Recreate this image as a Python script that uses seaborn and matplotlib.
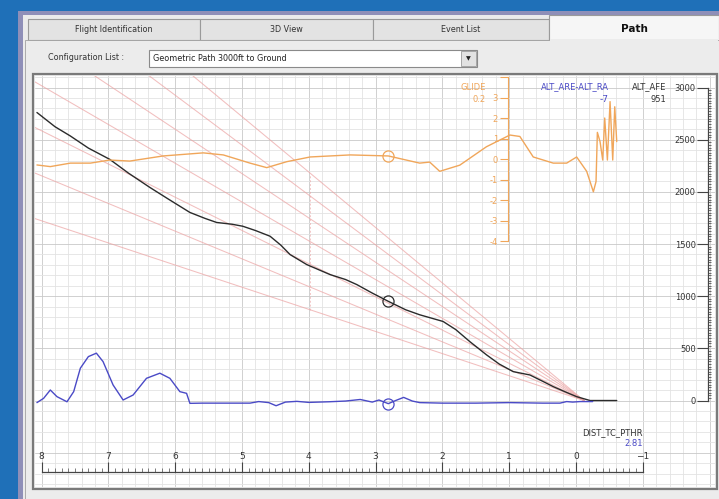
import numpy as np
import matplotlib
matplotlib.use("Agg")
import matplotlib.pyplot as plt
from matplotlib.patches import Rectangle
from matplotlib.ticker import FixedLocator
import seaborn as sns

# ------------------------------------------------------------
# Values (distance to threshold in nm)
# ------------------------------------------------------------
# ALT_AFE : altitude above field elevation (ft)
alt_dist = [8.07, 7.8, 7.57, 7.3, 6.98, 6.7, 6.38, 6.1, 5.78, 5.55, 5.38, 5.15,
            4.99, 4.8, 4.58, 4.42, 4.28, 4.03, 3.68, 3.45, 3.28, 3.05, 2.81,
            2.55, 2.34, 1.99, 1.8, 1.59, 1.34, 1.15, 0.94, 0.69, 0.5, 0.34,
            0.15, -0.01, -0.21, -0.61]
alt_afe = [2761, 2625, 2536, 2420, 2312, 2180, 2043, 1930, 1803, 1745, 1707, 1690,
           1671, 1630, 1575, 1490, 1399, 1303, 1207, 1160, 1111, 1030, 951,
           870, 822, 758, 680, 565, 438, 350, 277, 245, 185, 133,
           80, 37, 0, 0]

# GLIDE : glide slope deviation (dots)
glide_dist = [8.07, 7.87, 7.57, 7.27, 6.98, 6.68, 6.18, 5.58, 5.28, 4.88, 4.63,
              4.33, 3.98, 3.38, 2.81, 2.34, 2.19, 2.04, 1.74, 1.34, 0.99, 0.84,
              0.64, 0.34, 0.14, -0.01, -0.16, -0.26, -0.3, -0.32, -0.36, -0.4,
              -0.43, -0.47, -0.51, -0.55, -0.58, -0.61]
glide_dev = [-0.29, -0.37, -0.2, -0.2, -0.05, -0.1, 0.15, 0.3, 0.2, -0.2, -0.42,
             -0.13, 0.1, 0.2, 0.15, -0.2, -0.15, -0.6, -0.3, 0.6, 1.17, 1.1,
             0.1, -0.2, -0.2, 0.1, -0.6, -1.6, -1.1, 1.3, 0.85, -0.05,
             2.0, -0.05, 2.8, -0.05, 2.55, 0.85]

# ALT_ARE - ALT_RA (ft)
diff_dist = [8.07, 7.97, 7.87, 7.77, 7.62, 7.52, 7.42, 7.3, 7.18, 7.08, 6.93,
             6.78, 6.63, 6.43, 6.23, 6.08, 5.93, 5.83, 5.78, 5.6, 4.88, 4.75,
             4.6, 4.49, 4.35, 4.18, 4.0, 3.7, 3.45, 3.23, 3.05, 2.95, 2.81,
             2.7, 2.58, 2.45, 2.34, 2.0, 1.5, 1.0, 0.5, 0.24, 0.14, 0.05,
             -0.06, -0.25]
diff_ft = [-20, 21, 101, 37, -12, 85, 310, 421, 454, 373, 149,
           5, 53, 213, 262, 213, 85, 69, -27, -25, -25, -10,
           -20, -50, -15, -8, -18, -12, -5, 10, -15, 5, -30,
           0, 30, -5, -20, -25, -25, -20, -25, -25, -10, -15,
           -10, -10]

# reference geometric glide paths (deg) fanning out from the threshold
path_angles = [2.0, 2.5, 3.0, 3.5, 4.0, 4.5, 5.0]
path_origin = -0.12
cursor_dist = 2.81

dist_ticks = list(range(-1, 9))
alt_ticks = [0, 500, 1000, 1500, 2000, 2500, 3000]
glide_ticks = list(range(-4, 5))

tab_labels = ["Flight Identification", "3D View", "Event List", "Path"]
config_label = "Configuration List :"
config_name = "Geometric Path 3000ft to Ground"

ORANGE = "#f0a65a"
PINK = "#eca3a3"
BLACK = "#2b2b2b"
BLUE = "#4a4ac6"
TXT = "#333333"

sns.set_style("white")
plt.rcParams["font.family"] = ["DejaVu Sans"]

W, H = 719, 499
fig = plt.figure(figsize=(W / 100, H / 100), dpi=100)
fig.patch.set_facecolor("#1f70b8")


def fx(px):
    return px / W


def fy(py):
    return 1 - py / H


def box(x0, y0, x1, y1, z=-5, **kw):
    fig.add_artist(Rectangle((fx(x0), fy(y1)), (x1 - x0) / W, (y1 - y0) / H,
                             transform=fig.transFigure, zorder=z, **kw))


# window chrome
box(18, 11, 719, 499, fc="#8f8fb8", ec="none")
box(23, 15, 719, 499, fc="#ebebeb", ec="none")
tab_edges = [28, 200, 373, 549, 719]
for i, name in enumerate(tab_labels):
    x0, x1 = tab_edges[i], tab_edges[i + 1]
    if name == "Path":
        box(x0, 15, x1, 43, fc="#f6f6f6", ec="#9a9a9a", lw=0.8)
        fig.text(fx((x0 + x1) / 2), fy(29), name, ha="center", va="center",
                 size=7.5, weight="bold", color="#111111")
    else:
        box(x0, 19, x1, 40, fc="#e3e3e3", ec="#9a9a9a", lw=0.8)
        fig.text(fx((x0 + x1) / 2), fy(30), name, ha="center", va="center",
                 size=5.8, color=TXT)
box(25, 40, 719, 499, fc="#ececec", ec="#a0a0a0", lw=0.6, z=-4)
box(550, 39, 718, 43, fc="#ececec", ec="none", z=-3)

fig.text(fx(48), fy(58), config_label, ha="left", va="center", size=5.8, color=TXT)
box(149, 50, 477, 67, fc="white", ec="#8a8a8a", lw=0.8, z=-3)
fig.text(fx(153), fy(58.5), config_name, ha="left", va="center", size=5.8, color="#222222")
box(461, 51.5, 476, 65.5, fc="#e2e2e2", ec="#9a9a9a", lw=0.6, z=-2)
fig.text(fx(468.5), fy(58.5), "\u25BC", ha="center", va="center", size=4.5, color="#222222")

# plot area frame
box(33, 74, 717, 489, fc="none", ec="#7a7a7a", lw=1.6, z=5)

ax = fig.add_axes([fx(35), fy(487), (715 - 35) / W, (487 - 76) / H])
ax2 = ax.twinx()

ax.set_facecolor("white")
ax.set_xlim(8.099, -2.081)
ax.set_ylim(-829, 3111)

# background grid
for gx in np.arange(-2.0, 8.01, 0.2):
    major = abs(gx - round(gx)) < 1e-6
    ax.axvline(gx, color="#c9c9c9" if major else "#e3e3e3", lw=0.6, zorder=0)
for gy in range(-800, 3101, 100):
    ax.axhline(gy, color="#c9c9c9" if gy % 500 == 0 else "#e3e3e3", lw=0.6, zorder=0)

# reference glide paths
far = ax.get_xlim()[0]
for ang in path_angles:
    slope = np.tan(np.radians(ang)) * 6076.1
    sns.lineplot(x=[path_origin, far], y=[0, slope * (far - path_origin)], ax=ax,
                 color=PINK, lw=0.75, alpha=0.7, zorder=1)
ax.vlines(3.98, 865, 2165, colors=PINK, linestyles=(0, (2, 2)), lw=0.7, alpha=0.6, zorder=1)

# series
sns.lineplot(x=alt_dist, y=alt_afe, ax=ax, color=BLACK, lw=1.0, sort=False,
             estimator=None, zorder=3)
sns.lineplot(x=diff_dist, y=diff_ft, ax=ax, color=BLUE, lw=1.0, sort=False,
             estimator=None, zorder=3)
sns.lineplot(x=glide_dist, y=glide_dev, ax=ax2, color=ORANGE, lw=1.0, sort=False,
             estimator=None, zorder=3)

# cursor markers
ax.plot(cursor_dist, np.interp(cursor_dist, alt_dist[::-1], alt_afe[::-1]), "o",
        ms=8, mfc="none", mec=BLACK, mew=0.9, zorder=4)
ax.plot(cursor_dist, np.interp(cursor_dist, diff_dist[::-1], diff_ft[::-1]), "o",
        ms=8, mfc="none", mec=BLUE, mew=0.9, zorder=4)
ax2.plot(cursor_dist, np.interp(cursor_dist, glide_dist[::-1], glide_dev[::-1]), "o",
         ms=8, mfc="none", mec=ORANGE, mew=0.9, zorder=4)

# distance ruler (uses the top spine, moved down into the plot)
ax.spines["top"].set_position(("data", -688))
ax.spines["top"].set_bounds(-1, 8)
ax.spines["top"].set_color("#444444")
ax.spines["top"].set_linewidth(0.9)
ax.xaxis.tick_top()
ax.set_xticks(dist_ticks)
ax.xaxis.set_minor_locator(FixedLocator(np.arange(-1, 8.001, 0.1)))
ax.tick_params(axis="x", which="major", direction="out", length=7, width=0.8,
               labelsize=6.5, pad=1, colors="#444444", labelcolor=TXT)
ax.tick_params(axis="x", which="minor", direction="out", length=3, width=0.6,
               colors="#666666")

# altitude scale
ax.spines["left"].set_position(("data", -1.98))
ax.spines["left"].set_bounds(0, 3000)
ax.spines["left"].set_color("#444444")
ax.spines["left"].set_linewidth(0.9)
ax.yaxis.tick_left()
ax.set_yticks(alt_ticks)
ax.yaxis.set_minor_locator(FixedLocator(np.arange(0, 3001, 25)))
ax.tick_params(axis="y", which="major", direction="out", length=8, width=0.8,
               labelsize=6, pad=1, colors="#444444", labelcolor=TXT)
ax.tick_params(axis="y", which="minor", direction="in", length=2.5, width=0.6,
               colors="#555555")
ax.spines["right"].set_visible(False)
ax.spines["bottom"].set_visible(False)
ax.set_xlabel("")
ax.set_ylabel("")

# glide deviation scale
ax2.set_ylim(-16.0, 4.05)
for s in ax2.spines.values():
    s.set_visible(False)
ax2.spines["left"].set_visible(True)
ax2.spines["left"].set_position(("data", 1.02))
ax2.spines["left"].set_bounds(-4, 4)
ax2.spines["left"].set_color(ORANGE)
ax2.yaxis.set_ticks_position("left")
ax2.set_yticks(glide_ticks)
ax2.set_yticklabels([str(t) if t < 4 else "" for t in glide_ticks])
ax2.tick_params(axis="y", direction="out", length=6, width=0.8, labelsize=6,
                pad=1, colors=ORANGE)
ax2.set_ylabel("")

# readouts
fig.text(fx(486), fy(87), "GLIDE", color=ORANGE, ha="right", va="center", size=6)
fig.text(fx(486), fy(100), "0.2", color=ORANGE, ha="right", va="center", size=6)
fig.text(fx(609), fy(87), "ALT_ARE-ALT_RA", color=BLUE, ha="right", va="center", size=6)
fig.text(fx(609), fy(100), "-7", color=BLUE, ha="right", va="center", size=6.5)
fig.text(fx(666), fy(87), "ALT_AFE", color=TXT, ha="right", va="center", size=6)
fig.text(fx(666), fy(100), "951", color=TXT, ha="right", va="center", size=6)
fig.text(fx(643), fy(433), "DIST_TC_PTHR", color=TXT, ha="right", va="center", size=6)
fig.text(fx(643), fy(443), "2.81", color=BLUE, ha="right", va="center", size=6)

fig.savefig("out.png", dpi=100)
